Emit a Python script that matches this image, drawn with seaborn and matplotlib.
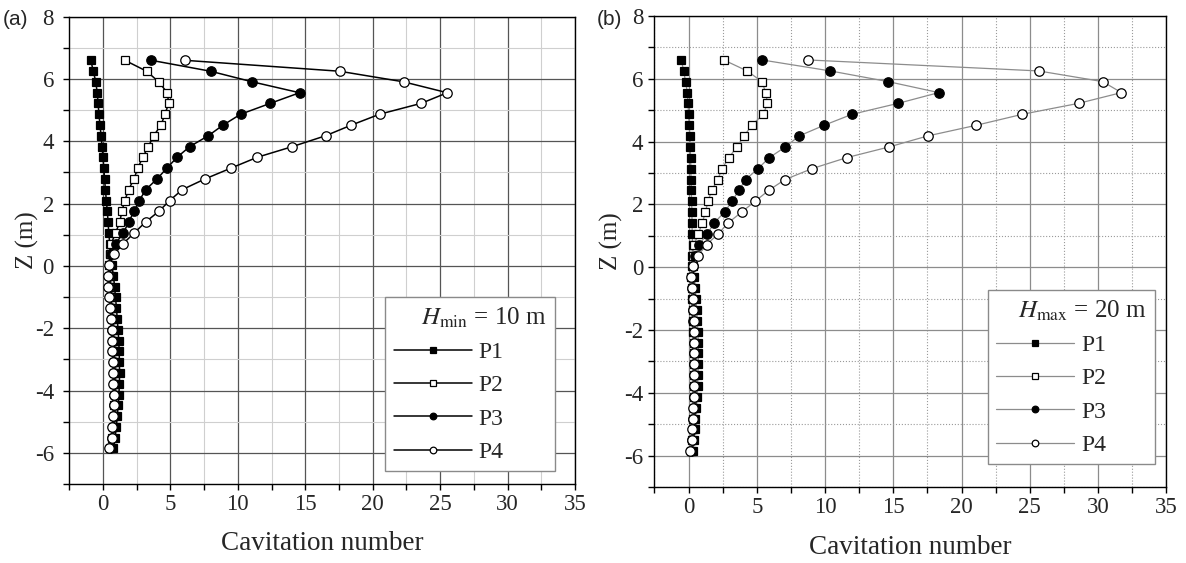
import matplotlib
matplotlib.use("Agg")
import matplotlib.pyplot as plt
from matplotlib.ticker import MultipleLocator
import seaborn as sns

# depth of the measuring points (shared by every series)
z = [6.60, 6.25, 5.91, 5.56, 5.22, 4.87, 4.52, 4.18, 3.83, 3.49, 3.14, 2.79,
     2.45, 2.10, 1.76, 1.41, 1.06, 0.72, 0.37, 0.03, -0.32, -0.67, -1.01,
     -1.36, -1.70, -2.05, -2.40, -2.74, -3.09, -3.43, -3.78, -4.13, -4.47,
     -4.82, -5.16, -5.51, -5.86]

# (a) H_min = 10 m
a_p1 = [-0.90, -0.72, -0.53, -0.43, -0.36, -0.30, -0.22, -0.14, -0.07, 0.00,
        0.06, 0.12, 0.18, 0.25, 0.32, 0.38, 0.43, 0.50, 0.55, 0.65, 0.78, 0.86,
        0.93, 1.00, 1.06, 1.12, 1.17, 1.20, 1.22, 1.23, 1.22, 1.18, 1.13, 1.06,
        0.99, 0.90, 0.78]
a_p2 = [1.63, 3.24, 4.13, 4.77, 4.87, 4.60, 4.30, 3.76, 3.36, 2.95, 2.58, 2.30,
        1.90, 1.62, 1.40, 1.25, 0.93, 0.62, 0.50, 0.45, 0.50, 0.52, 0.58, 0.64,
        0.68, 0.72, 0.76, 0.78, 0.81, 0.83, 0.85, 0.86, 0.85, 0.82, 0.76, 0.70,
        0.50]
a_p3 = [3.59, 7.98, 11.07, 14.58, 12.41, 10.21, 8.90, 7.81, 6.43, 5.50, 4.74,
        4.00, 3.18, 2.69, 2.32, 1.90, 1.52, 0.94, 0.62, 0.50, 0.45, 0.48, 0.55,
        0.62, 0.66, 0.70, 0.74, 0.77, 0.80, 0.82, 0.84, 0.85, 0.84, 0.80, 0.75,
        0.68, 0.55]
a_p4 = [6.11, 17.55, 22.29, 25.53, 23.60, 20.51, 18.41, 16.51, 14.04, 11.45,
        9.49, 7.55, 5.88, 4.95, 4.16, 3.16, 2.32, 1.50, 0.82, 0.45, 0.40, 0.40,
        0.48, 0.55, 0.60, 0.64, 0.68, 0.70, 0.74, 0.76, 0.78, 0.79, 0.79, 0.75,
        0.70, 0.65, 0.45]

# (b) H_max = 20 m
b_p1 = [-0.53, -0.36, -0.22, -0.09, -0.04, 0.00, 0.05, 0.09, 0.12, 0.15, 0.17,
        0.18, 0.20, 0.22, 0.25, 0.25, 0.27, 0.29, 0.27, 0.30, 0.42, 0.49, 0.54,
        0.59, 0.64, 0.69, 0.71, 0.71, 0.71, 0.69, 0.66, 0.62, 0.57, 0.50, 0.45,
        0.40, 0.30]
b_p2 = [2.58, 4.29, 5.38, 5.65, 5.78, 5.48, 4.63, 4.07, 3.53, 2.96, 2.45, 2.14,
        1.70, 1.42, 1.24, 1.00, 0.72, 0.40, 0.30, 0.25, 0.20, 0.22, 0.26, 0.30,
        0.33, 0.36, 0.38, 0.40, 0.41, 0.41, 0.40, 0.39, 0.37, 0.34, 0.30, 0.25,
        0.15]
b_p3 = [5.38, 10.39, 14.62, 18.33, 15.37, 11.98, 9.93, 8.10, 7.09, 5.92, 5.09,
        4.18, 3.68, 3.19, 2.64, 1.88, 1.37, 0.77, 0.50, 0.35, 0.22, 0.25, 0.29,
        0.33, 0.36, 0.39, 0.41, 0.42, 0.43, 0.42, 0.41, 0.40, 0.38, 0.35, 0.30,
        0.25, 0.15]
b_p4 = [8.75, 25.65, 30.34, 31.71, 28.59, 24.46, 21.08, 17.52, 14.69, 11.59,
        9.05, 7.06, 5.88, 4.88, 3.90, 2.90, 2.17, 1.32, 0.69, 0.34, 0.17, 0.25,
        0.29, 0.34, 0.37, 0.39, 0.42, 0.42, 0.42, 0.39, 0.39, 0.37, 0.34, 0.29,
        0.25, 0.22, 0.10]

names = ["P1", "P2", "P3", "P4"]
markers = ["s", "s", "o", "o"]
faces = ["black", "white", "black", "white"]
msizes = [6.0, 6.0, 6.8, 6.8]

sns.set_style("ticks")
plt.rcParams["font.family"] = ["Liberation Serif", "DejaVu Serif"]
plt.rcParams["mathtext.fontset"] = "stix"
plt.rcParams["axes.unicode_minus"] = False


def draw_panel(ax, series, line_color, line_w, title, minor_ls, major_c, minor_c,
               ylab_x, ypad, leg_box):
    for name, xs, m, fc, ms in zip(names, series, markers, faces, msizes):
        sns.lineplot(x=xs, y=z, ax=ax, sort=False, estimator=None,
                     color=line_color, linewidth=line_w, marker=m,
                     markersize=ms, markerfacecolor=fc,
                     markeredgecolor="black", markeredgewidth=0.9, label=name)

    ax.set_xlim(-2.5, 35)
    ax.set_ylim(-7, 8)
    ax.xaxis.set_major_locator(MultipleLocator(5))
    ax.xaxis.set_minor_locator(MultipleLocator(2.5))
    ax.yaxis.set_major_locator(MultipleLocator(2))
    ax.yaxis.set_minor_locator(MultipleLocator(1))
    ax.set_axisbelow(True)
    ax.grid(which="major", color=major_c, linewidth=0.9, linestyle="-")
    ax.grid(which="minor", color=minor_c, linewidth=0.8, linestyle=minor_ls)

    ax.tick_params(which="both", direction="out", length=4, width=1,
                   labelsize=16.5, color="black")
    ax.tick_params(axis="y", pad=ypad)
    for sp in ax.spines.values():
        sp.set_color("black")
        sp.set_linewidth(1.0)

    ax.set_xlabel("Cavitation number", fontsize=19.5)
    ax.set_ylabel("Z (m)", fontsize=18)
    ax.xaxis.label.set_va("center")
    ax.yaxis.label.set_va("center")
    ax.xaxis.set_label_coords(0.5, -0.128)
    ax.yaxis.set_label_coords(ylab_x, 0.522)

    leg = ax.legend(title=title, loc="upper left", bbox_to_anchor=leg_box,
                    mode="expand", borderaxespad=0, fontsize=17,
                    title_fontsize=18, alignment="right", frameon=True,
                    fancybox=False, edgecolor="#8a8a8a", framealpha=1,
                    handlelength=3.3, handletextpad=0.3, labelspacing=0.5,
                    markerscale=0.7, borderpad=0.35)
    leg.get_frame().set_linewidth(1.0)


fig = plt.figure(figsize=(11.86, 5.63), dpi=100)
ax_a = fig.add_axes([0.0584, 0.1403, 0.4264, 0.8300])
ax_b = fig.add_axes([0.5518, 0.1350, 0.4316, 0.8366])

draw_panel(ax_a, [a_p1, a_p2, a_p3, a_p4], "black", 1.1,
           r"$H_{\mathrm{min}}$ = 10 m", "-", "#555555", "#cfcfcf", -0.082, 7,
           (0.625, 0.03, 0.335, 0.37))
draw_panel(ax_b, [b_p1, b_p2, b_p3, b_p4], "#8c8c8c", 0.9,
           r"$H_{\mathrm{max}}$ = 20 m", ":", "#8c8c8c", "#9a9a9a", -0.083, 4,
           (0.652, 0.04, 0.326, 0.378))

fig.text(0.0025, 0.966, "(a)", fontsize=15, family="Liberation Sans", va="center")
fig.text(0.5035, 0.966, "(b)", fontsize=15, family="Liberation Sans", va="center")

fig.savefig("out.png", dpi=100)
